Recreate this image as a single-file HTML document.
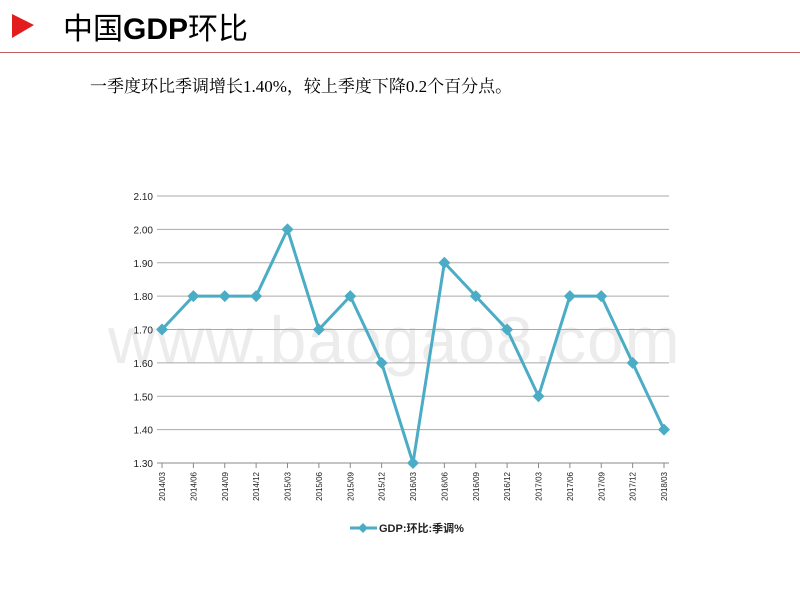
<!DOCTYPE html>
<html><head><meta charset="utf-8">
<style>
body{margin:0;background:#fff;width:800px;height:600px;overflow:hidden;position:relative;font-family:"Liberation Sans","Noto Sans CJK SC",sans-serif}
.title{position:absolute;left:63px;top:4px;font-size:30px;color:#000;font-family:"Noto Sans CJK SC","WenQuanYi Zen Hei",sans-serif}
.title b{font-family:"Liberation Sans",sans-serif;font-weight:bold}
.rule{position:absolute;left:0;top:52px;width:800px;height:1px;background:#c06060}
.sub{position:absolute;left:90px;top:72px;font-size:17px;font-family:"Liberation Serif","Noto Serif CJK SC",serif}
.wm{position:absolute;left:108px;top:302px;font-size:66px;color:#ececec;font-family:"Liberation Sans",sans-serif;letter-spacing:1px}
</style></head><body>
<div class="wm">www.baogao8.com</div>
<svg width="30" height="30" style="position:absolute;left:10px;top:12px"><polygon points="2,2 24,13 2,26" fill="#e31d1d"/></svg>
<div class="title">中国<b>GDP</b>环比</div>
<div class="rule"></div>
<div class="sub">一季度环比季调增长1.40%，较上季度下降0.2个百分点。</div>
<svg id="chart" width="800" height="600" style="position:absolute;left:0;top:0"></svg>
<script>
const categories=["2014/03","2014/06","2014/09","2014/12","2015/03","2015/06","2015/09","2015/12","2016/03","2016/06","2016/09","2016/12","2017/03","2017/06","2017/09","2017/12","2018/03"];
const values=[1.7,1.8,1.8,1.8,2.0,1.7,1.8,1.6,1.3,1.9,1.8,1.7,1.5,1.8,1.8,1.6,1.4];
const yTicks=[1.3,1.4,1.5,1.6,1.7,1.8,1.9,2.0,2.1];
const NS="http://www.w3.org/2000/svg";
const svg=document.getElementById('chart');
const x=i=>162+i*(502/(categories.length-1));
const y=v=>463-(v-1.3)/(2.1-1.3)*267;
function mk(t,a){const e=document.createElementNS(NS,t);for(const k in a)e.setAttribute(k,a[k]);svg.appendChild(e);return e;}
yTicks.forEach(v=>{
 const g=mk('line',{x1:157,x2:669,y1:y(v),y2:y(v),stroke:v===1.3?'#888':'#aaa','stroke-width':1});
 
 
 const t=mk('text',{x:153,y:y(v)+4,'text-anchor':'end','font-size':10,fill:'#222'});
 t.textContent=v.toFixed(2);
 
 
});
categories.forEach((c,i)=>{
 const tk=mk('line',{x1:x(i),x2:x(i),y1:463,y2:468,stroke:'#888'});
 
 
 const t=mk('text',{x:0,y:0,'font-size':8,fill:'#222','text-anchor':'end',transform:`translate(${x(i)+3},472) rotate(-90)`});
 t.textContent=c;
 
 
});
const line=mk('polyline',{points:values.map((v,i)=>x(i)+','+y(v)).join(' '),fill:'none',stroke:'#4bacc6','stroke-width':3});


values.forEach((v,i)=>{
 const m=mk('polygon',{points:`${x(i)},${y(v)-6} ${x(i)+6},${y(v)} ${x(i)},${y(v)+6} ${x(i)-6},${y(v)}`,fill:'#4bacc6'});
 
 
});
const ll=mk('line',{x1:350,x2:377,y1:528,y2:528,stroke:'#4bacc6','stroke-width':3});


const lm=mk('polygon',{points:'363,523 368,528 363,533 358,528',fill:'#4bacc6'});


const lt=mk('text',{x:379,y:532,'font-size':11,'font-weight':'bold',fill:'#222'});
lt.textContent='GDP:环比:季调%';


</script>
</body></html>
